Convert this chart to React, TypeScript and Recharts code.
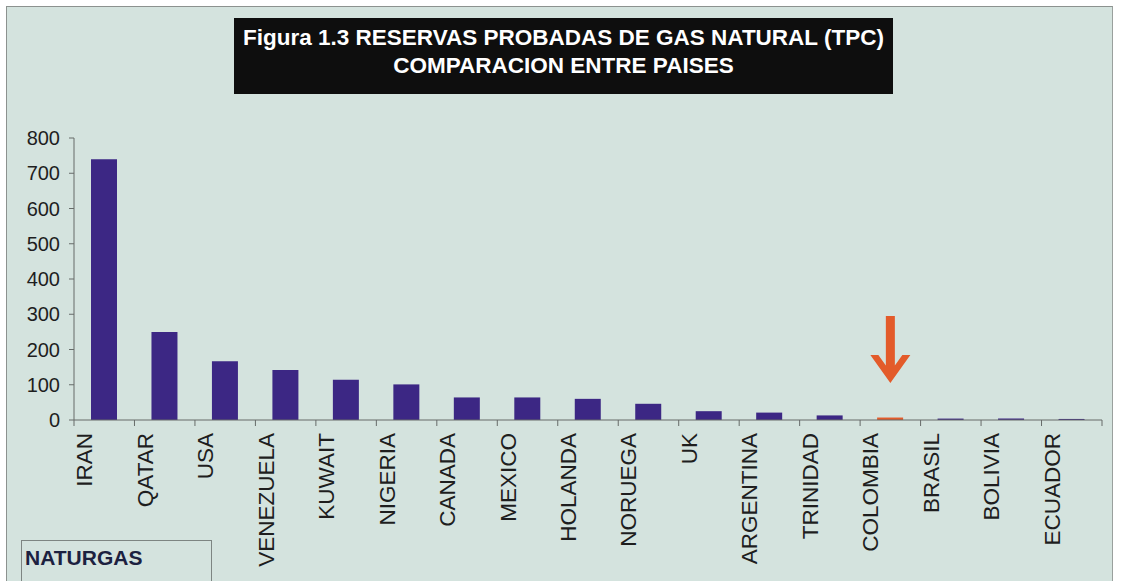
import React from "react";
import {
  BarChart,
  Bar,
  XAxis,
  YAxis,
  Cell,
  ReferenceLine,
} from "recharts";

// Reservas probadas de gas natural (TPC)
const countries = [
  "IRAN",
  "QATAR",
  "USA",
  "VENEZUELA",
  "KUWAIT",
  "NIGERIA",
  "CANADA",
  "MEXICO",
  "HOLANDA",
  "NORUEGA",
  "UK",
  "ARGENTINA",
  "TRINIDAD",
  "COLOMBIA",
  "BRASIL",
  "BOLIVIA",
  "ECUADOR",
];
const reserves = [740, 250, 167, 142, 114, 101, 64, 64, 60, 46, 25, 21, 13, 7, 4, 4, 3];
const yTicks = [0, 100, 200, 300, 400, 500, 600, 700, 800];
const highlighted = "COLOMBIA";
// arrow above Colombia, from its tail down to the tip (value units)
const arrowFrom = 295;
const arrowTo = 105;

const FONT = "'Liberation Sans', Arial, sans-serif";
const BAR_COLOR = "#3C2784";
const ORANGE = "#E35B2A";
const AXIS_COLOR = "#666b69";
const PANEL_BG = "#D4E3DE";

const chartData = countries.map((name, i) => ({ name, value: reserves[i] }));

const CategoryTick = (props: any) => {
  const { x, y, payload, index } = props;
  const half = payload && payload.offset ? payload.offset : (1102 - 74) / countries.length / 2;
  const tx = x - 12;
  const ty = y + 13;
  return (
    <g>
      <line x1={x - half} y1={y} x2={x - half} y2={y + 6} stroke={AXIS_COLOR} strokeWidth={1} />
      {index === countries.length - 1 && (
        <line x1={x + half} y1={y} x2={x + half} y2={y + 6} stroke={AXIS_COLOR} strokeWidth={1} />
      )}
      <text
        x={tx}
        y={ty}
        transform={`rotate(-90, ${tx}, ${ty})`}
        textAnchor="end"
        fill="#1e1e1e"
        fontSize={22.5}
        fontFamily={FONT}
      >
        {payload.value}
      </text>
    </g>
  );
};

const Arrow = (props: any) => {
  const { x1, y1, y2 } = props;
  const cx = x1;
  const top = Math.min(y1, y2);
  const tip = Math.max(y1, y2);
  const pts = [
    [-4.5, top - tip],
    [4.5, top - tip],
    [4.5, -17.5],
    [12, -28],
    [20, -28],
    [0, 0],
    [-20, -28],
    [-12, -28],
    [-4.5, -17.5],
  ]
    .map(([dx, dy]) => `${cx + dx},${tip + dy}`)
    .join(" ");
  return <polygon points={pts} fill={ORANGE} />;
};

export default function App() {
  return (
    <div
      style={{
        position: "absolute",
        left: 0,
        top: 0,
        width: 1128,
        height: 581,
        background: "#ffffff",
        overflow: "hidden",
        fontFamily: FONT,
      }}
    >
      <div
        style={{
          position: "absolute",
          left: 6,
          top: 6,
          width: 1105,
          height: 600,
          background: PANEL_BG,
          borderLeft: "1px solid #8c928f",
          borderTop: "1px solid #8c928f",
          borderRight: "1px solid #9aa09d",
        }}
      />
      <div
        style={{
          position: "absolute",
          left: 234,
          top: 18,
          width: 659,
          height: 76,
          background: "#0e0e0e",
          color: "#ffffff",
          fontWeight: "bold",
          fontSize: 22.5,
          lineHeight: "28px",
          textAlign: "center",
          paddingTop: 6,
          boxSizing: "border-box",
          whiteSpace: "nowrap",
        }}
      >
        <div>Figura 1.3 RESERVAS PROBADAS DE GAS NATURAL (TPC)</div>
        <div>COMPARACION ENTRE PAISES</div>
      </div>
      <div
        style={{
          position: "absolute",
          left: 21,
          top: 540,
          width: 191,
          height: 60,
          border: "1px solid #7d8582",
          boxSizing: "border-box",
          paddingLeft: 3,
          paddingTop: 5,
          fontWeight: "bold",
          fontSize: 21,
          lineHeight: "24px",
          color: "#1c2140",
        }}
      >
        NATURGAS
      </div>
      <div style={{ position: "absolute", left: 0, top: 0 }}>
        <BarChart
          width={1128}
          height={581}
          data={chartData}
          margin={{ top: 138, right: 26, left: 14, bottom: 0 }}
          barSize={26}
        >
          <XAxis
            dataKey="name"
            interval={0}
            height={161}
            tickLine={false}
            tickSize={0}
            tickMargin={0}
            axisLine={{ stroke: AXIS_COLOR, strokeWidth: 1 }}
            tick={<CategoryTick />}
          />
          <YAxis
            width={60}
            domain={[0, 800]}
            ticks={yTicks}
            interval={0}
            tickSize={5}
            tickMargin={9}
            axisLine={{ stroke: AXIS_COLOR, strokeWidth: 1 }}
            tickLine={{ stroke: AXIS_COLOR, strokeWidth: 1 }}
            tick={{ fill: "#1e1e1e", fontSize: 20, fontFamily: FONT }}
          />
          <Bar dataKey="value" isAnimationActive={false}>
            {chartData.map((d) => (
              <Cell key={d.name} fill={d.name === highlighted ? ORANGE : BAR_COLOR} />
            ))}
          </Bar>
          <ReferenceLine
            segment={[
              { x: highlighted, y: arrowFrom },
              { x: highlighted, y: arrowTo },
            ]}
            shape={<Arrow />}
            ifOverflow="visible"
          />
        </BarChart>
      </div>
    </div>
  );
}
